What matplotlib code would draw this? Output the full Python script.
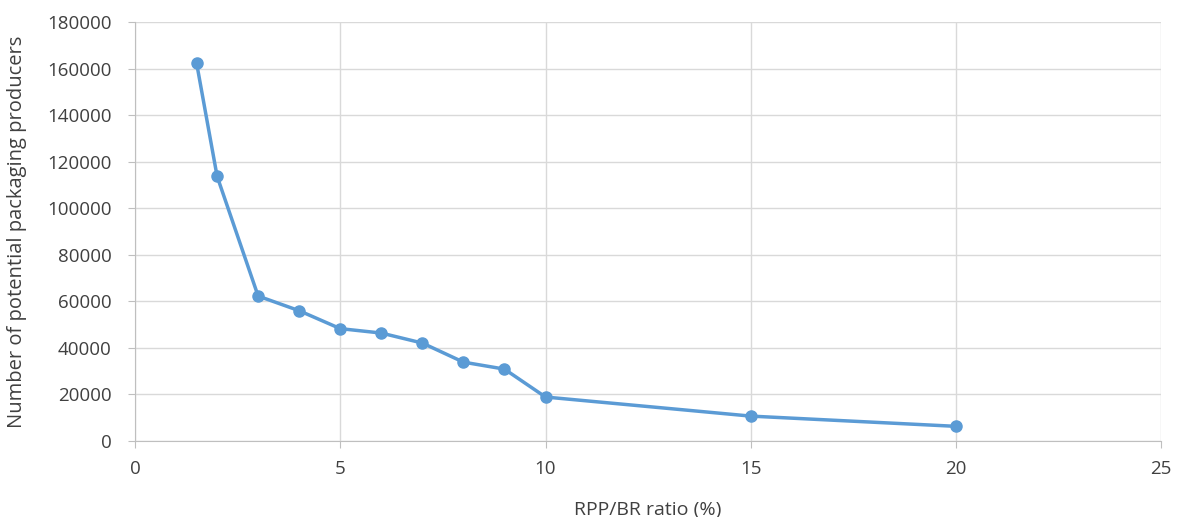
import matplotlib.pyplot as plt

# RPP/BR ratio (%) vs number of potential packaging producers
ratio = [1.5, 2, 3, 4, 5, 6, 7, 8, 9, 10, 15, 20]
producers = [162500, 113800, 62300, 56000, 48300, 46400, 42100, 33900, 30900, 18900, 10700, 6300]

plt.rcParams['font.family'] = ['Open Sans', 'DejaVu Sans']

fig = plt.figure(figsize=(11.81, 5.17), dpi=100)
ax = fig.add_axes([0.1143, 0.147, 0.869, 0.81])

ax.plot(ratio, producers, color="#5b9bd5", linewidth=2.5,
        marker="o", markersize=8, zorder=3)

ax.set_xlim(0, 25)
ax.set_ylim(0, 180000)
ax.set_xticks(range(0, 26, 5))
ax.set_yticks(range(0, 180001, 20000))

ax.grid(color="#d9d9d9", linewidth=1)
ax.set_axisbelow(True)
for side in ["top", "right"]:
    ax.spines[side].set_visible(False)
for side in ["left", "bottom"]:
    ax.spines[side].set_color("#bfbfbf")
ax.tick_params(colors="#bfbfbf", labelcolor="#404040", labelsize=13.5, length=5)
ax.tick_params(axis="x", pad=9)
ax.tick_params(axis="y", pad=12)

ax.set_xlabel("RPP/BR ratio (%)", fontsize=14, color="#404040", labelpad=16)
ax.set_ylabel("Number of potential packaging producers", fontsize=14.5, color="#404040", labelpad=14)

fig.savefig("out.png", dpi=100)
